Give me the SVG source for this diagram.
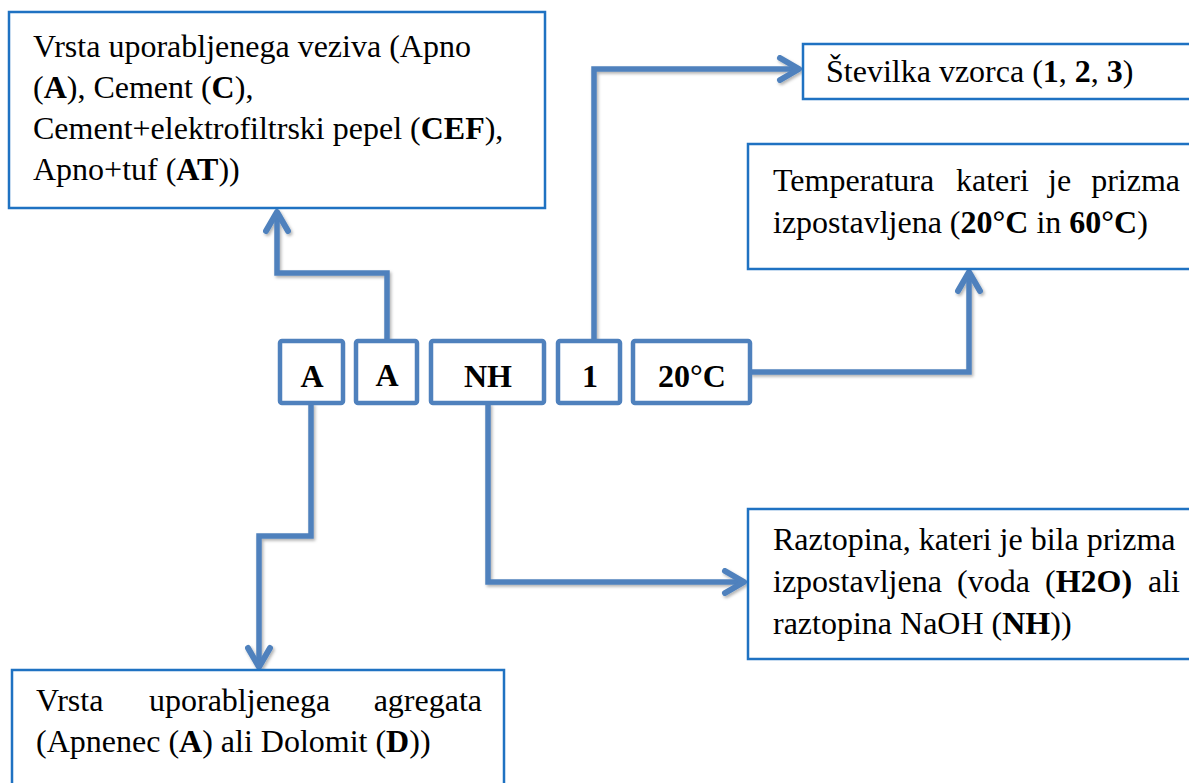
<svg xmlns="http://www.w3.org/2000/svg" width="1189" height="783" viewBox="0 0 1189 783">
<defs>
<style>
.big{fill:#fff;stroke:#1f72c2;stroke-width:2.5}
.small{fill:#fff;stroke:#4f81bd;stroke-width:4.5}
.t{font-family:"Liberation Serif","Times New Roman",serif;font-size:32px;fill:#000}
.b{font-weight:bold}
.tb{font-family:"Liberation Serif","Times New Roman",serif;font-size:32px;font-weight:bold;fill:#000;text-anchor:middle}
.conn{fill:none;stroke:#4f81bd;stroke-width:5.5;stroke-linejoin:miter}
</style>
<filter id="sh" x="-10%" y="-10%" width="120%" height="120%">
<feDropShadow dx="1.5" dy="2" stdDeviation="1.5" flood-color="#000" flood-opacity="0.3"/>
</filter>
<marker id="ah" markerUnits="userSpaceOnUse" viewBox="-24 -14 28 28" refX="0" refY="0" markerWidth="28" markerHeight="28" orient="auto">
<path d="M-19,-11 L0,0 L-19,11" fill="none" stroke="#4f81bd" stroke-width="6" stroke-linecap="round" stroke-linejoin="round"/>
</marker>
</defs>
<g id="connectors" filter="url(#sh)">
<path class="conn" d="M387,340 V273 H277 V212" marker-end="url(#ah)"/>
<path class="conn" d="M594,340 V69 H799" marker-end="url(#ah)"/>
<path class="conn" d="M750,372 H969 V272" marker-end="url(#ah)"/>
<path class="conn" d="M311,403 V536 H259 V667" marker-end="url(#ah)"/>
<path class="conn" d="M488,403 V582 H744" marker-end="url(#ah)"/>
</g>
<g id="box-binder">
<rect class="big" x="9" y="12" width="536" height="196"/>
<text class="t" x="33" y="57">Vrsta uporabljenega veziva (Apno</text>
<text class="t" x="33" y="98">(<tspan class="b">A</tspan>), Cement (<tspan class="b">C</tspan>),</text>
<text class="t" x="33" y="139">Cement+elektrofiltrski pepel (<tspan class="b">CEF</tspan>),</text>
<text class="t" x="33" y="180">Apno+tuf (<tspan class="b">AT</tspan>))</text>
</g>
<g id="box-sample">
<rect class="big" x="803" y="44" width="390" height="55"/>
<text class="t" x="826" y="82">Številka vzorca (<tspan class="b">1</tspan>, <tspan class="b">2</tspan>, <tspan class="b">3</tspan>)</text>
</g>
<g id="box-temp">
<rect class="big" x="748" y="144" width="445" height="125"/>
<text class="t" y="191"><tspan x="773">Temperatura</tspan><tspan x="956">kateri</tspan><tspan x="1048">je</tspan><tspan x="1180" text-anchor="end">prizma</tspan></text>
<text class="t" x="773" y="233">izpostavljena (<tspan class="b">20°C</tspan> in <tspan class="b">60°C</tspan>)</text>
</g>
<g id="code-a1">
<rect class="small" x="280" y="341" width="63" height="62" rx="2"/>
<text class="tb" x="312" y="387">A</text>
</g>
<g id="code-a2">
<rect class="small" x="356" y="341" width="61" height="62" rx="2"/>
<text class="tb" x="387" y="386">A</text>
</g>
<g id="code-nh">
<rect class="small" x="431" y="341" width="113" height="62" rx="2"/>
<text class="tb" x="488" y="387">NH</text>
</g>
<g id="code-1">
<rect class="small" x="558" y="341" width="62" height="62" rx="2"/>
<text class="tb" x="590" y="387">1</text>
</g>
<g id="code-temp">
<rect class="small" x="633" y="341" width="117" height="62" rx="2"/>
<text class="tb" x="692" y="387">20°C</text>
</g>
<g id="box-solution">
<rect class="big" x="748" y="509" width="445" height="150"/>
<text class="t" x="773" y="550">Raztopina, kateri je bila prizma</text>
<text class="t" y="592"><tspan x="773">izpostavljena</tspan><tspan x="957">(voda</tspan><tspan x="1045">(<tspan class="b">H2O)</tspan></tspan><tspan x="1180" text-anchor="end">ali</tspan></text>
<text class="t" x="773" y="634">raztopina NaOH (<tspan class="b">NH</tspan>))</text>
</g>
<g id="box-aggregate">
<rect class="big" x="12" y="670" width="492" height="130"/>
<text class="t" y="711"><tspan x="36">Vrsta</tspan><tspan x="149">uporabljenega</tspan><tspan x="482" text-anchor="end">agregata</tspan></text>
<text class="t" x="36" y="752">(Apnenec (<tspan class="b">A</tspan>) ali Dolomit (<tspan class="b">D</tspan>))</text>
</g>
</svg>
